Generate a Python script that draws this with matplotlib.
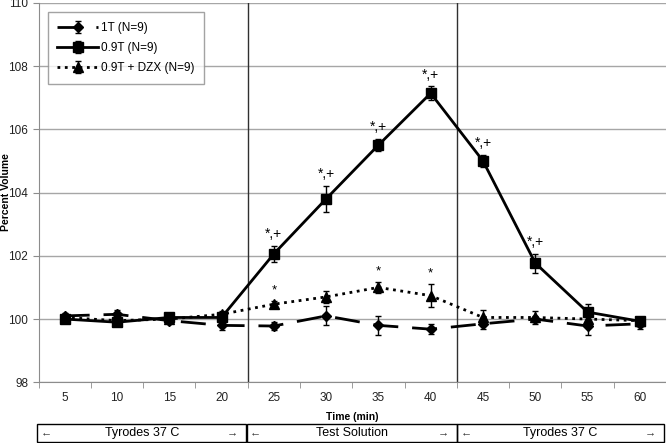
import matplotlib.pyplot as plt
import numpy as np
from matplotlib.patches import Rectangle

plt.rcParams['font.family'] = ['Liberation Sans', 'DejaVu Sans']

times = [5, 10, 15, 20, 25, 30, 35, 40, 45, 50, 55, 60]

t1_mean = [100.1, 100.15, 99.95, 99.8, 99.78, 100.1, 99.8, 99.68, 99.85, 100.0, 99.78, 99.85]
t1_err = [0.08, 0.15, 0.08, 0.15, 0.12, 0.3, 0.3, 0.15, 0.15, 0.1, 0.28, 0.15]

t09_mean = [100.0, 99.9, 100.05, 100.05, 102.06, 103.8, 105.5, 107.14, 105.0, 101.77, 100.22, 99.93]
t09_err = [0.08, 0.08, 0.08, 0.15, 0.25, 0.42, 0.2, 0.22, 0.2, 0.3, 0.25, 0.15]

dzx_mean = [100.05, 99.95, 100.0, 100.15, 100.47, 100.7, 101.0, 100.74, 100.05, 100.05, 100.0, 99.95]
dzx_err = [0.08, 0.08, 0.08, 0.12, 0.1, 0.2, 0.18, 0.36, 0.25, 0.2, 0.1, 0.1]

sig_09 = ["", "", "", "", "*,+", "*,+", "*,+", "*,+", "*,+", "*,+", "", ""]
sig_dzx = ["", "", "", "", "*", "", "*", "*", "", "", "", ""]

phases = ["Tyrodes 37 C", "Test Solution", "Tyrodes 37 C"]

W, H = 666, 443
fig = plt.figure(figsize=(W / 100, H / 100), dpi=100)
ax = fig.add_axes([38.5 / W, 1 - 382.3 / H, (666 - 38.5) / W, (382.3 - 2.8) / H])

x = np.arange(len(times))

ax.set_ylim(98, 110)
ax.set_xlim(-0.5, len(times) - 0.5)
ax.set_yticks(np.arange(98, 111, 2))
ax.yaxis.grid(True, color="#a6a6a6", lw=1)
ax.set_axisbelow(True)
for s in ["top", "right"]:
    ax.spines[s].set_visible(False)
ax.spines["left"].set_color("#8c8c8c")
ax.spines["bottom"].set_color("#8c8c8c")

ax.set_xticks(x)
ax.set_xticklabels(times)
ax.set_xticks(np.arange(-0.5, len(times), 1), minor=True)
ax.tick_params(axis="x", which="major", length=0, pad=7, labelsize=8.5, labelcolor="#222222")
ax.tick_params(axis="x", which="minor", length=4, color="#8c8c8c", direction="out")
ax.tick_params(axis="y", length=4, color="#8c8c8c", labelsize=8.5, labelcolor="#222222")

for xv in [3.5, 7.5]:
    ax.axvline(xv, color="#303030", lw=1, zorder=1)

ax.errorbar(x, t1_mean, yerr=t1_err, color="black", lw=2, dashes=(9, 5),
            marker="D", ms=5.5, ecolor="black", elinewidth=1, capsize=2.5,
            label="1T (N=9)", zorder=3)
ax.errorbar(x, t09_mean, yerr=t09_err, color="black", lw=2,
            marker="s", ms=7, ecolor="black", elinewidth=1, capsize=2.5,
            label="0.9T (N=9)", zorder=4)
ax.errorbar(x, dzx_mean, yerr=dzx_err, color="black", lw=2, linestyle=":",
            marker="^", ms=7, ecolor="black", elinewidth=1, capsize=2.5,
            label="0.9T + DZX (N=9)", zorder=3)

for i in range(len(times)):
    if sig_09[i]:
        ax.text(x[i], t09_mean[i] + t09_err[i] + 0.15, sig_09[i], ha="center",
                va="bottom", fontsize=10)
    if sig_dzx[i]:
        ax.text(x[i], dzx_mean[i] + dzx_err[i] + 0.15, sig_dzx[i], ha="center",
                va="bottom", fontsize=9.5)

ax.set_ylabel("Percent Volume", fontsize=7.5, fontweight="bold")
ax.yaxis.set_label_coords((11 - 38.5) / (666 - 38.5), 0.5)
ax.set_xlabel("Time (min)", fontsize=7.5, fontweight="bold", labelpad=6)

leg = ax.legend(loc="upper left", bbox_to_anchor=(9.5 / (666 - 38.5), 0.975),
                fontsize=8.5, frameon=True, fancybox=False, edgecolor="#8c8c8c",
                handlelength=3.4, labelspacing=0.7, borderpad=0.8,
                handletextpad=0.3, borderaxespad=0)
leg.get_frame().set_linewidth(1)

# phase boxes below the axis
edges = [37, 246.5, 457, 664]
y0, y1 = 423.5, 442
for i, name in enumerate(phases):
    l, r = edges[i], edges[i + 1]
    fig.patches.append(Rectangle((l / W, 1 - y1 / H), (r - l) / W, (y1 - y0) / H,
                                 transform=fig.transFigure, fill=False,
                                 edgecolor="black", lw=1))
    yc = 1 - (y0 + y1) / 2 / H
    fig.text((l + r) / 2 / W, yc, name, ha="center", va="center", fontsize=9)
    fig.text((l + 9) / W, yc, "\u2190", ha="center", va="center", fontsize=8, color="#333333")
    fig.text((r - 14) / W, yc, "\u2192", ha="center", va="center", fontsize=8, color="#333333")

fig.savefig("out.png", dpi=100)
